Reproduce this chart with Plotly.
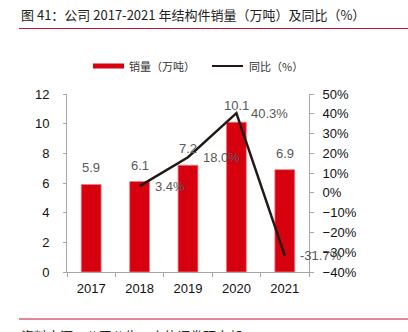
import plotly.graph_objects as go

years = ["2017", "2018", "2019", "2020", "2021"]
sales = [5.9, 6.1, 7.2, 10.1, 6.9]
yoy = [None, 0.034, 0.180, 0.403, -0.317]
sales_labels = ["5.9", "6.1", "7.2", "10.1", "6.9"]
yoy_labels = ["", "3.4%", "18.0%", "40.3%", "-31.7%"]
title_text = "图 41：公司 2017-2021 年结构件销量（万吨）及同比（%）"
bar_name = "销量（万吨）"
line_name = "同比（%）"
source_text = "资料来源：公司公告，中信证券研究部"

FONT = "Liberation Sans, Arial, Noto Sans CJK SC"
CJK = "Noto Sans CJK SC, Liberation Sans"
RED = "#d7000f"
LINE = "#231815"
AX = "#a6a6a6"
LBL = "#595959"

W, H = 408, 332
L, R, T, B = 67, 99, 94, 60
pw, ph = W - L - R, H - T - B

def px(x):
    return (x - L) / pw

def py(y):
    return (H - B - y) / ph

fig = go.Figure()
fig.add_trace(go.Bar(
    x=years, y=sales, name=bar_name,
    marker=dict(color=RED, line=dict(color="#f07a80", width=0.8)),
    showlegend=False,
))
fig.add_trace(go.Scatter(
    x=years, y=yoy, name=line_name, yaxis="y2", mode="lines",
    line=dict(color=LINE, width=2.5), showlegend=False,
))

ann = []
for i, (yv, t) in enumerate(zip(sales, sales_labels)):
    ann.append(dict(x=i, y=yv, xref="x", yref="y", text=t, showarrow=False,
                    yanchor="bottom", xanchor="center", yshift=7,
                    font=dict(family=FONT, size=13, color=LBL)))
for i, (yv, t) in enumerate(zip(yoy, yoy_labels)):
    if yv is None:
        continue
    ann.append(dict(x=i, y=yv, xref="x", yref="y2", text=t, showarrow=False,
                    yanchor="middle", xanchor="left", xshift=13,
                    font=dict(family=FONT, size=13, color=LBL)))

# title, legend, footer
ann.append(dict(x=px(19), y=py(15), xref="paper", yref="paper", text=title_text,
                showarrow=False, xanchor="left", yanchor="middle",
                font=dict(family=CJK, size=13, color="#222222")))
ann.append(dict(x=px(127), y=py(66), xref="paper", yref="paper", text=bar_name,
                showarrow=False, xanchor="left", yanchor="middle",
                font=dict(family=CJK, size=11, color="#333333")))
ann.append(dict(x=px(247), y=py(66), xref="paper", yref="paper", text=line_name,
                showarrow=False, xanchor="left", yanchor="middle",
                font=dict(family=CJK, size=11, color="#333333")))
ann.append(dict(x=px(19), y=py(324), xref="paper", yref="paper", text=source_text,
                showarrow=False, xanchor="left", yanchor="top",
                font=dict(family=CJK, size=13, color="#222222")))

shapes = [
    dict(type="line", xref="paper", yref="paper", x0=px(19), x1=px(408),
         y0=py(28.5), y1=py(28.5), line=dict(color="#c8102e", width=1)),
    dict(type="line", xref="paper", yref="paper", x0=px(19), x1=px(408),
         y0=py(319), y1=py(319), line=dict(color="#c8102e", width=1)),
    dict(type="rect", xref="paper", yref="paper", x0=px(93), x1=px(124),
         y0=py(68.5), y1=py(63.5), fillcolor=RED, line=dict(width=0)),
    dict(type="line", xref="paper", yref="paper", x0=px(212), x1=px(243),
         y0=py(66), y1=py(66), line=dict(color=LINE, width=2)),
]

fig.update_layout(
    width=W, height=H,
    margin=dict(l=L, r=R, t=T, b=B, pad=0),
    paper_bgcolor="white", plot_bgcolor="white",
    bargap=0.59,
    showlegend=False,
    annotations=ann, shapes=shapes,
    xaxis=dict(type="category", range=[-0.5, 4.5], showline=True, linecolor=AX, linewidth=1,
               ticks="outside", tickson="boundaries", ticklen=4, tickcolor=AX,
               showgrid=False, tickfont=dict(family=FONT, size=13, color="#111111"),
               ticklabelstandoff=4),
    yaxis=dict(range=[0, 12], dtick=2, showline=True, linecolor=AX, linewidth=1,
               ticks="outside", ticklen=3, tickcolor=AX, showgrid=False,
               zeroline=False,
               tickfont=dict(family=FONT, size=13, color="#111111"),
               ticklabelstandoff=11),
    yaxis2=dict(range=[-0.4, 0.5], dtick=0.1, tickformat=".0%", overlaying="y",
                side="right", showline=True, linecolor=AX, linewidth=1,
                ticks="outside", ticklen=4, tickcolor=AX, showgrid=False,
                zeroline=False,
                tickfont=dict(family=FONT, size=13, color="#111111"),
                ticklabelstandoff=6),
)

fig.write_html("out.html")
